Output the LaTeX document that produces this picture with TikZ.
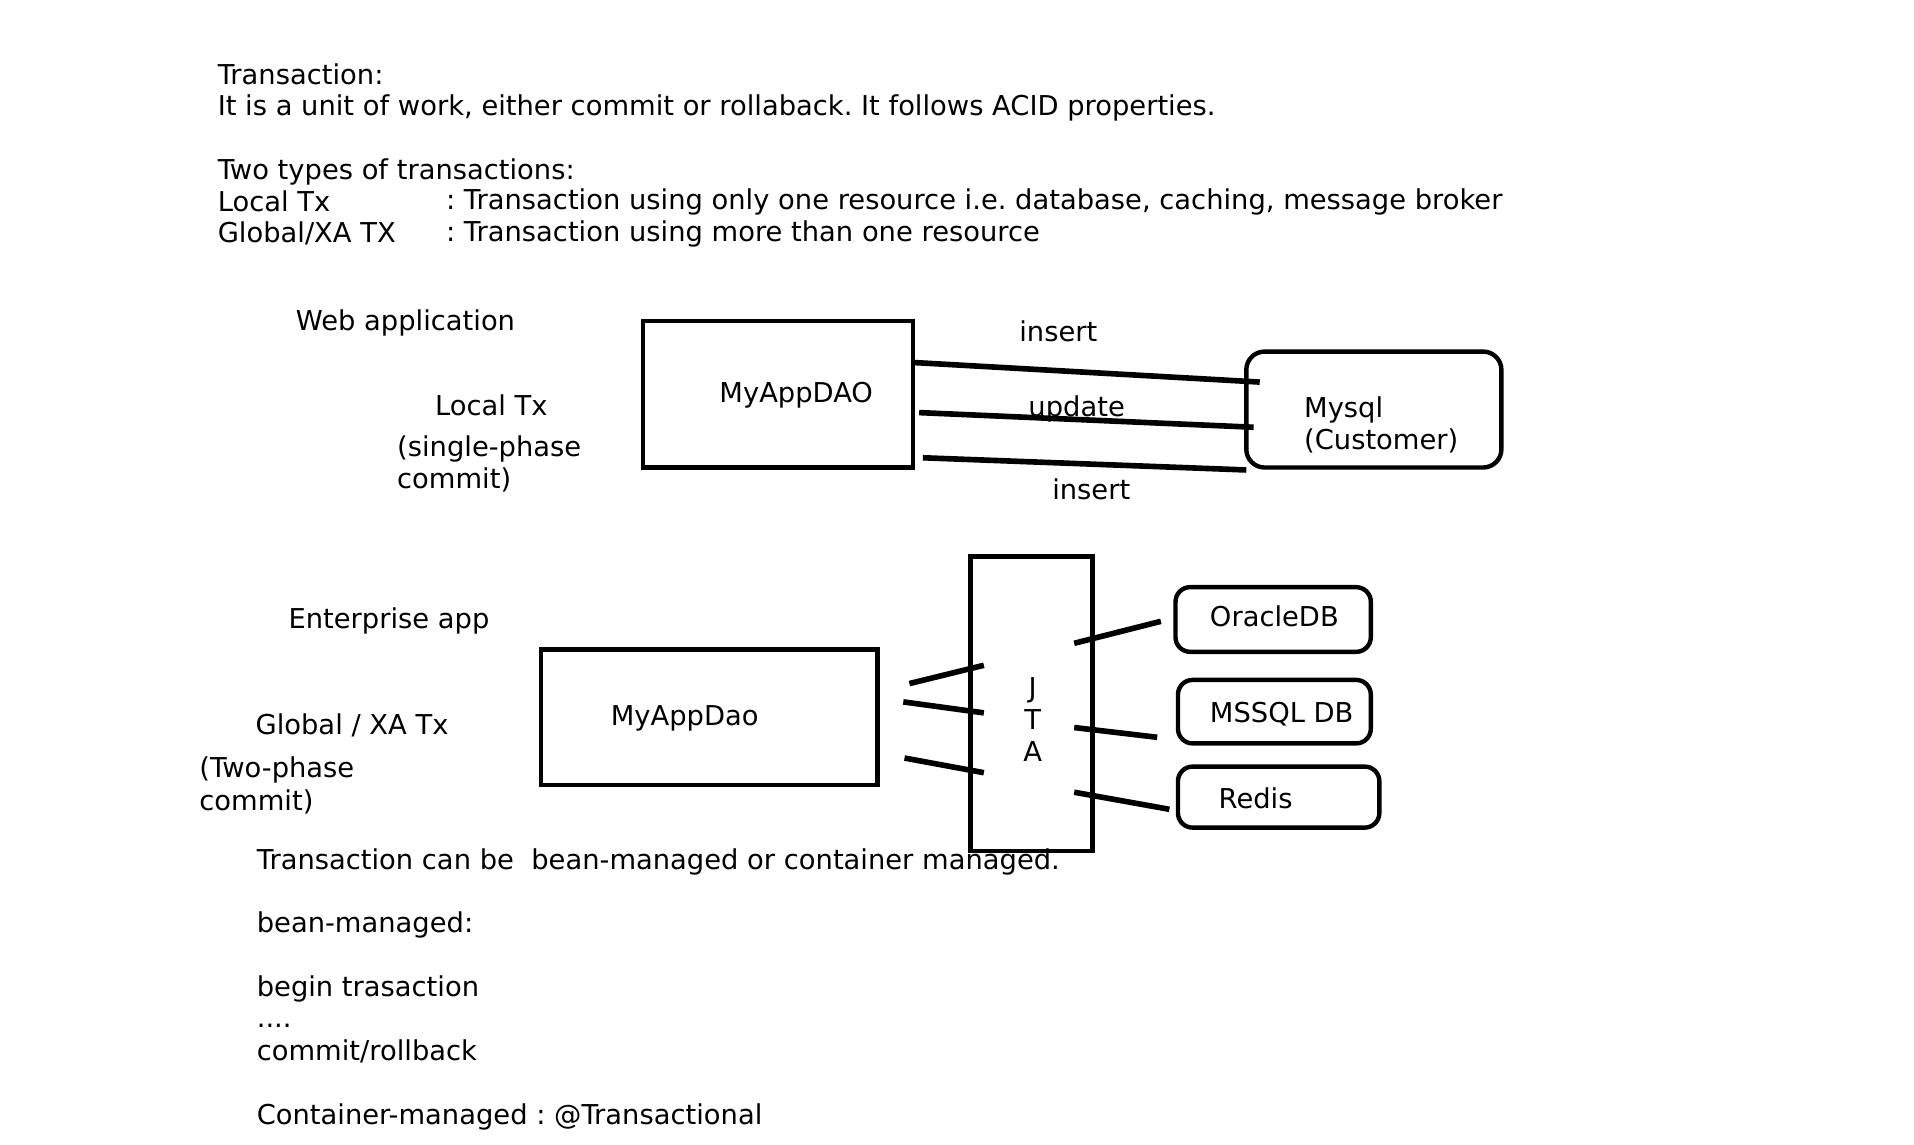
\documentclass[tikz,border=0pt]{standalone}
\usepackage{fontspec}
\setmainfont{DejaVu Sans}
\frenchspacing
\begin{document}
\begin{tikzpicture}[x=0.5pt,y=-0.5pt,
    every node/.style={font=\fontsize{11.2}{13}\selectfont},
    txt/.style={anchor=base west,inner sep=0pt},
    mid/.style={anchor=base,inner sep=0pt},
    box/.style={draw,line width=1.8pt,inner sep=0pt},
    dbbox/.style={box,rounded corners=6pt},
    link/.style={line width=2.3pt}]
  \useasboundingbox (0,0) rectangle (1568,938);
  % intro text
  \node [txt] (title) at (178,69) {Transaction:};
  \node [txt] (unit) at (178,95) {It is a unit of work, either commit or rollaback. It follows ACID properties.};
  \node [txt] (types) at (178,147) {Two types of transactions:};
  \node [txt] (loc) at (178,173) {Local Tx};
  \node [txt] (locdef) at (365,172) {: Transaction using only one resource i.e. database, caching, message broker};
  \node [txt] (glob) at (178,199) {Global/XA TX};
  \node [txt] (globdef) at (365,198) {: Transaction using more than one resource};
  % local tx
  \node [txt] (web) at (242,271) {Web application};
  \node [txt] (loctx) at (356,340) {Local Tx};
  \node [txt] (single) at (325,374) {(single-phase};
  \node [txt] (singlec) at (325,400) {commit)};
  \node [box,minimum width=110.5pt,minimum height=60pt] (dao) at (637.5,323) {};
  \node [txt] (daotxt) at (589,330) {MyAppDAO};
  \node [dbbox,rounded corners=7.5pt,minimum width=104.5pt,minimum height=47.5pt] (mysql) at (1125.5,335.5) {};
  \node [txt] (mysqltxt) at (1068,342) {Mysql};
  \node [txt] (custtxt) at (1068,368) {(Customer)};
  \coordinate (ua) at (749,297); \coordinate (ub) at (1032,313);
  \coordinate (va) at (753,338); \coordinate (vb) at (1027,350);
  \coordinate (wa) at (756,375); \coordinate (wb) at (1021,385);
  \draw [link] (ua) -- (ub); \draw [link] (va) -- (vb); \draw [link] (wa) -- (wb);
  \node [mid] (ins1) at (867,280) {insert};
  \node [mid] (upd) at (882,341) {update};
  \node [mid] (ins2) at (894,409) {insert};
  % global tx
  \node [txt] (ent) at (236,515) {Enterprise app};
  \node [txt] (globtx) at (209,602) {Global / XA Tx};
  \node [txt] (two) at (163,637) {(Two-phase};
  \node [txt] (twoc) at (163,664) {commit)};
  \node [box,minimum width=138pt,minimum height=55.5pt] (dao2) at (581,587.5) {};
  \node [txt] (dao2txt) at (500,594) {MyAppDao};
  \node [box,minimum width=50pt,minimum height=120.5pt] (jta) at (845,576.5) {};
  \node [mid] (j) at (846,571) {J};
  \node [mid] (t) at (846,598) {T};
  \node [mid] (a) at (846,624) {A};
  \node [dbbox,minimum width=80pt,minimum height=26.5pt] (ora) at (1043,507.5) {};
  \node [mid] (oratxt) at (1044,513) {OracleDB};
  \node [dbbox,minimum width=79pt,minimum height=26pt] (mss) at (1044,583) {};
  \node [mid] (msstxt) at (1050,592) {MSSQL DB};
  \node [dbbox,minimum width=82.5pt,minimum height=25pt] (red) at (1047.5,653) {};
  \node [txt] (redtxt) at (998,662) {Redis};
  \coordinate (l1a) at (745,560); \coordinate (l1b) at (806,545);
  \coordinate (l2a) at (740,575); \coordinate (l2b) at (806,584);
  \coordinate (l3a) at (741,621); \coordinate (l3b) at (806,633);
  \coordinate (r1a) at (880,527); \coordinate (r1b) at (951,509);
  \coordinate (r2a) at (880,596); \coordinate (r2b) at (948,604);
  \coordinate (r3a) at (880,649); \coordinate (r3b) at (958,663);
  \draw [link] (l1a) -- (l1b); \draw [link] (l2a) -- (l2b); \draw [link] (l3a) -- (l3b);
  \draw [link] (r1a) -- (r1b); \draw [link] (r2a) -- (r2b); \draw [link] (r3a) -- (r3b);
  % bean / container managed
  \node [txt] (can) at (210,712) {Transaction can be\ \ bean-managed or container managed.};
  \node [txt] (bean) at (210,764) {bean-managed:};
  \node [txt] (begin) at (210,816) {begin trasaction};
  \node [txt] (dots) at (210,842) {....};
  \node [txt] (commit) at (210,869) {commit/rollback};
  \node [txt] (cont) at (210,921) {Container-managed : @Transactional};
\end{tikzpicture}
\end{document}
